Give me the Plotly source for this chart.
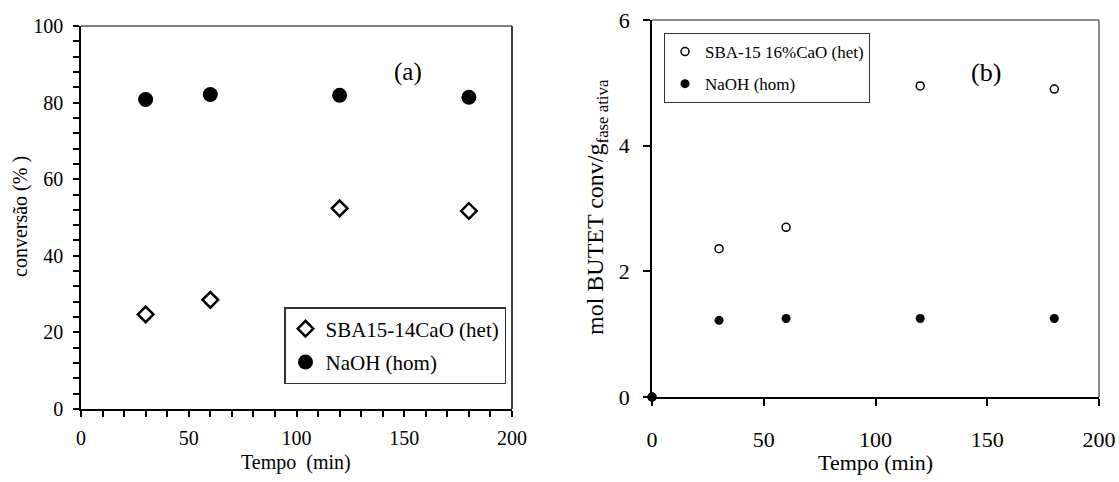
import plotly.graph_objects as go

W, H = 1119, 482

# ---- data (a) ----
time_a = [30, 60, 120, 180]
sba15_14cao = [24.7, 28.5, 52.4, 51.7]
naoh_a = [80.8, 82.1, 81.9, 81.4]

# ---- data (b) ----
time_b = [0, 30, 60, 120, 180]
sba15_16cao = [0, 2.36, 2.70, 4.95, 4.90]
naoh_b = [0, 1.22, 1.25, 1.25, 1.25]

x_ticks = [0, 50, 100, 150, 200]
ya_ticks = [0, 20, 40, 60, 80, 100]
yb_ticks = [0, 2, 4, 6]

SERIF = "Liberation Serif"

def px(v):
    return v / W

def py(v):
    return 1 - v / H

fig = go.Figure()

fig.add_trace(go.Scatter(
    x=time_a, y=sba15_14cao, mode="markers", name="SBA15-14CaO (het)",
    marker=dict(symbol="diamond-open", size=12, color="black", line=dict(width=2.5, color="black")),
    xaxis="x", yaxis="y", legend="legend", legendgroup="a1", cliponaxis=False))
fig.add_trace(go.Scatter(
    x=time_a, y=naoh_a, mode="markers", name="NaOH (hom)",
    marker=dict(symbol="circle", size=15, color="black"),
    xaxis="x", yaxis="y", legend="legend", legendgroup="a2", cliponaxis=False))

fig.add_trace(go.Scatter(
    x=time_b, y=sba15_16cao, mode="markers", name="SBA-15 16%CaO (het)",
    marker=dict(symbol="circle-open", size=8, color="black", line=dict(width=1.5, color="black")),
    xaxis="x2", yaxis="y2", legend="legend2", legendgroup="b1", cliponaxis=False))
fig.add_trace(go.Scatter(
    x=time_b, y=naoh_b, mode="markers", name="NaOH (hom)",
    marker=dict(symbol="circle", size=9, color="black"),
    xaxis="x2", yaxis="y2", legend="legend2", legendgroup="b2", cliponaxis=False))

axis_common = dict(showgrid=False, zeroline=False, showline=True, linecolor="black",
                   linewidth=1.5, ticks="outside", tickcolor="black", tickwidth=1.5,
                   automargin=False)

fig.update_layout(
    template="none",
    width=W, height=H,
    margin=dict(l=0, r=0, t=0, b=0, pad=0),
    paper_bgcolor="white", plot_bgcolor="white",
    font=dict(family=SERIF, color="black"),
    xaxis=dict(domain=[px(81), px(512)], range=[0, 200], tickvals=x_ticks, anchor="y",
               ticklen=6, tickfont=dict(size=20, family=SERIF, color="black"), ticklabelstandoff=4,
               minor=dict(dtick=10, ticks="outside", ticklen=6, tickwidth=1.5, tickcolor="black", showgrid=False),
               **axis_common),
    yaxis=dict(domain=[py(409), py(26)], range=[0, 100], tickvals=ya_ticks, anchor="x",
               ticklen=6, tickfont=dict(size=20, family=SERIF, color="black"), ticklabelstandoff=6,
               minor=dict(dtick=4, ticks="outside", ticklen=6, tickwidth=1.5, tickcolor="black", showgrid=False),
               **axis_common),
    xaxis2=dict(domain=[px(652), px(1099)], range=[0, 200], tickvals=x_ticks, anchor="y2",
                ticklen=7, tickfont=dict(size=22, family=SERIF, color="black"), ticklabelstandoff=15,
                **axis_common),
    yaxis2=dict(domain=[py(397), py(20)], range=[0, 6], tickvals=yb_ticks, anchor="x2",
                ticklen=7, tickfont=dict(size=22, family=SERIF, color="black"), ticklabelstandoff=9,
                **axis_common),
    legend=dict(x=px(284), y=py(307), xanchor="left", yanchor="top",
                bordercolor="#333333", borderwidth=1.5, bgcolor="white",
                font=dict(size=21, family=SERIF, color="black"), tracegroupgap=3, traceorder="grouped",
                itemwidth=30),
    legend2=dict(x=px(664), y=py(33), xanchor="left", yanchor="top",
                 bordercolor="#333333", borderwidth=1, bgcolor="white",
                 font=dict(size=17, family=SERIF, color="black"), tracegroupgap=7, traceorder="grouped",
                 itemwidth=30),
    showlegend=True,
)

# frame edges (top / right)
fig.add_shape(type="line", xref="x domain", yref="y domain", x0=0, x1=1, y0=1, y1=1,
              line=dict(color="#7f7f7f", width=2))
fig.add_shape(type="line", xref="x domain", yref="y domain", x0=1, x1=1, y0=0, y1=1,
              line=dict(color="black", width=1.5))
fig.add_shape(type="line", xref="x2 domain", yref="y2 domain", x0=0, x1=1, y0=1, y1=1,
              line=dict(color="#8c8c8c", width=2))
fig.add_shape(type="line", xref="x2 domain", yref="y2 domain", x0=1, x1=1, y0=0, y1=1,
              line=dict(color="#8c8c8c", width=2))

annotations = [
    dict(text="Tempo  (min)", x=px(296), y=py(462), font=dict(size=20, family=SERIF, color="black")),
    dict(text="conversão (% )", x=px(21), y=py(217), font=dict(size=20, family=SERIF, color="black"), textangle=-90),
    dict(text="(a)", x=px(408), y=py(72), font=dict(size=25, family=SERIF, color="black")),
    dict(text="Tempo (min)", x=px(875), y=py(462), font=dict(size=22, family=SERIF, color="black")),
    dict(text="mol BUTET conv/g<sub>fase ativa</sub>", x=px(597), y=py(207),
         font=dict(size=24, family=SERIF, color="black"), textangle=-90),
    dict(text="(b)", x=px(986), y=py(72), font=dict(size=26, family=SERIF, color="black")),
]
for a in annotations:
    fig.add_annotation(xref="paper", yref="paper", xanchor="center", yanchor="middle",
                       showarrow=False, **a)

fig.write_html("out.html")
